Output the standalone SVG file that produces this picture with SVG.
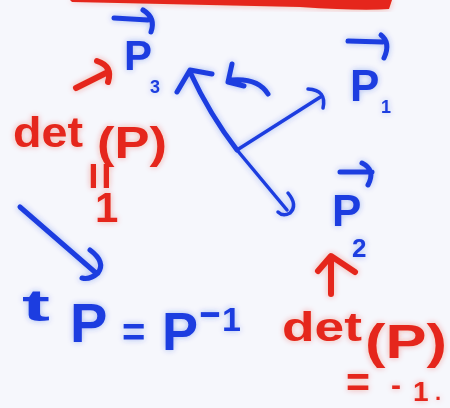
<svg xmlns="http://www.w3.org/2000/svg" width="450" height="408" viewBox="0 0 450 408">
<defs>
<filter id="glow" x="-20%" y="-20%" width="140%" height="140%">
<feGaussianBlur in="SourceGraphic" stdDeviation="3" result="b"/>
<feComponentTransfer in="b" result="bb"><feFuncA type="linear" slope="0.35"/></feComponentTransfer>
<feMerge><feMergeNode in="bb"/><feMergeNode in="SourceGraphic"/></feMerge>
</filter>
<style>
.b{fill:#1e3ee0;font-family:"Liberation Sans",Arial,sans-serif;font-weight:bold}
.r{fill:#e5281b;font-family:"Liberation Sans",Arial,sans-serif;font-weight:bold}
.bs{fill:none;stroke:#1e3ee0;stroke-width:5;stroke-linecap:round;stroke-linejoin:round}
.bt{fill:none;stroke:#1e3ee0;stroke-width:3.5;stroke-linecap:round;stroke-linejoin:round}
.rs{fill:none;stroke:#e5281b;stroke-width:6;stroke-linecap:round;stroke-linejoin:round}
</style>
</defs>
<rect width="450" height="408" fill="#f6f7fc"/>
<g id="topband" filter="url(#glow)">
<path d="M70,0 L392,0 L389,9 Q360,11 300,7 L72,2 Z" fill="#e5281b"/>
</g>
<g id="p3" filter="url(#glow)">
<path class="bs" d="M114,18 L148,20 M143,10 Q156,18 151,32"/>
<text class="b" x="124" y="70" font-size="42">P</text>
<text class="b" x="150" y="93" font-size="18">3</text>
</g>
<g id="p1" filter="url(#glow)">
<path class="bs" d="M348,41 L383,42 M381,35 Q391,43 384,58"/>
<text class="b" x="350" y="101" font-size="44">P</text>
<text class="b" x="381" y="113" font-size="18">1</text>
</g>
<g id="p2" filter="url(#glow)">
<path class="bs" d="M340,172 L372,172 M362,163 Q376,170 368,185"/>
<text class="b" x="332" y="226" font-size="44">P</text>
<text class="b" x="352" y="257" font-size="26">2</text>
</g>
<g id="detleft" filter="url(#glow)">
<path class="rs" d="M76,88 L108,72 M97,61 Q113,66 108,82"/>
<text class="r" x="13" y="147" font-size="42" textLength="70" lengthAdjust="spacingAndGlyphs">det</text>
<text class="r" x="97" y="158" font-size="44" textLength="70" lengthAdjust="spacingAndGlyphs">(P)</text>
<text class="r" font-size="48" transform="translate(83,162) rotate(90)">=</text>
<text class="r" x="95" y="222" font-size="42">1</text>
</g>
<g id="detright" filter="url(#glow)">
<path class="rs" d="M331,294 L331,258 M318,271 L331,256 L355,272"/>
<text class="r" x="282" y="341" font-size="40" textLength="80" lengthAdjust="spacingAndGlyphs">det</text>
<text class="r" x="365" y="358" font-size="48" textLength="82" lengthAdjust="spacingAndGlyphs">(P)</text>
<text class="r" x="346" y="397" font-size="42" textLength="24" lengthAdjust="spacingAndGlyphs">=</text>
<text class="r" x="391" y="395" font-size="30">-</text>
<text class="r" x="413" y="401" font-size="28">1</text>
<text class="r" x="435" y="400" font-size="22">.</text>
</g>
<g id="transpose" filter="url(#glow)">
<path class="bs" d="M20,207 L96,273 M90,250 Q106,262 98,273 Q90,280 82,278"/>
<text class="b" x="22" y="321" font-size="44" textLength="28" lengthAdjust="spacingAndGlyphs">t</text>
<text class="b" x="70" y="342" font-size="56">P</text>
<text class="b" x="122" y="346" font-size="40">=</text>
<text class="b" x="162" y="350" font-size="54">P</text>
<text class="b" x="198" y="325" font-size="40" textLength="24" lengthAdjust="spacingAndGlyphs">-</text>
<text class="b" x="222" y="331" font-size="34">1</text>
</g>
<g id="connectors" filter="url(#glow)">
<path class="bs" d="M237,150 Q210,115 190,72 M177,92 L190,70 L212,74"/>
<path class="bs" d="M268,94 Q258,78 232,80 M232,64 L228,82 L244,86"/>
<path class="bt" d="M237,150 L322,96 M308,89 Q327,90 323,108"/>
<path class="bt" d="M237,150 Q262,180 287,210 M288,193 Q298,205 290,213 Q283,217 278,212"/>
</g>
</svg>
